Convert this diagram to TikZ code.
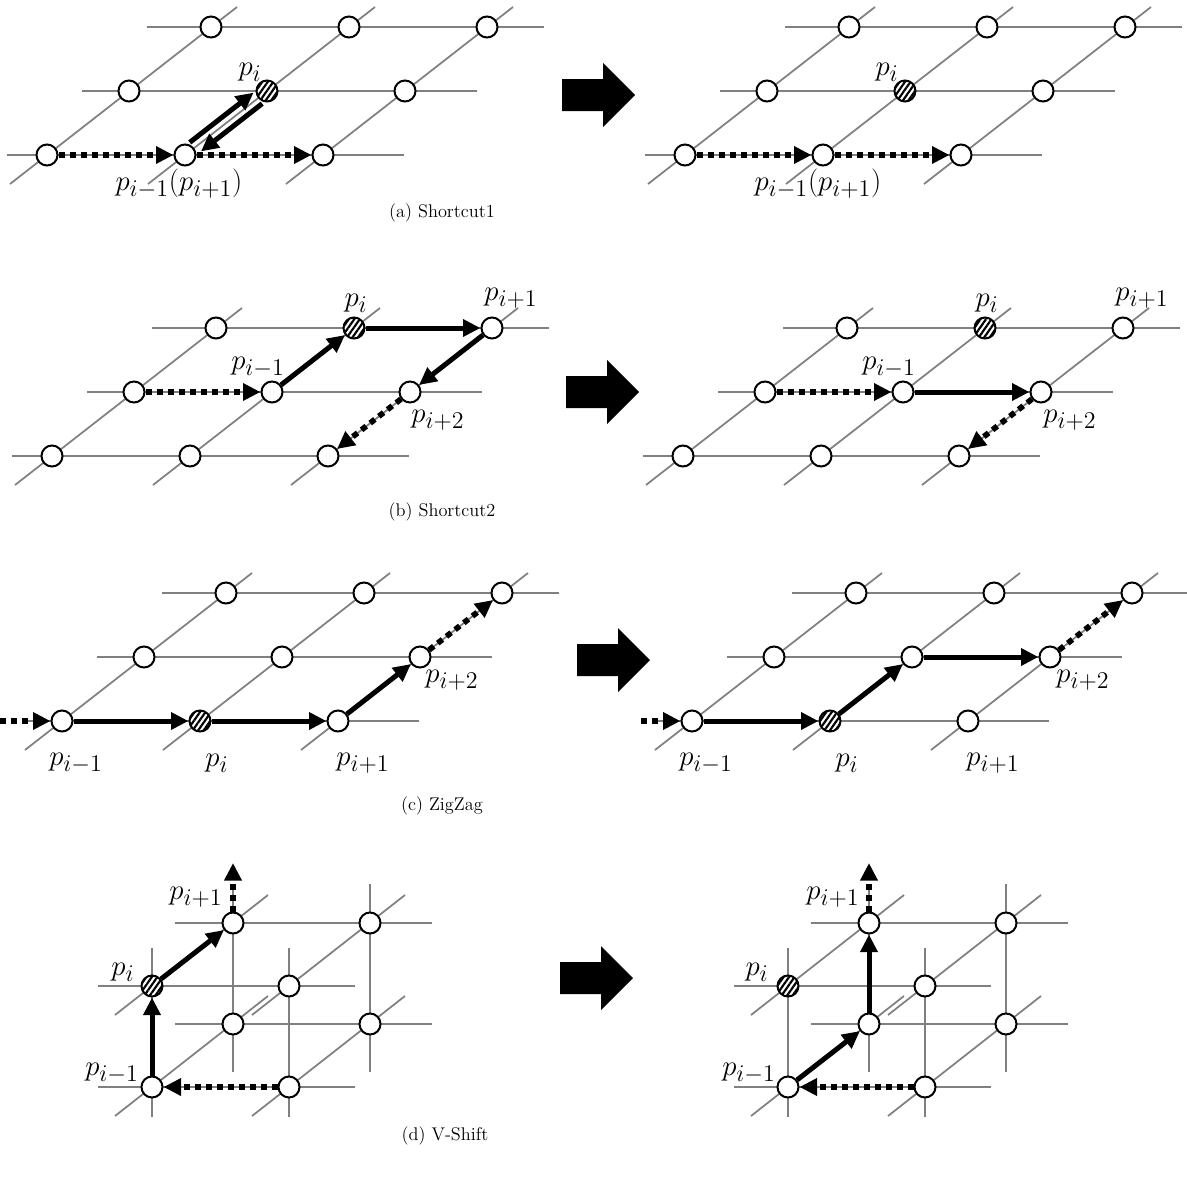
\documentclass[tikz,border=0pt]{standalone}
\usetikzlibrary{arrows.meta,patterns.meta}
\definecolor{gridgray}{RGB}{128,128,128}
\tikzset{
  gline/.style={draw=gridgray, line width=1.4pt},
  dline/.style={draw=gridgray, line width=1.05pt},
  vtx/.style={circle, draw=black, line width=1.2pt, fill=white, minimum size=12.6pt, inner sep=0pt},
  hatchfill/.style={preaction={fill=white}, pattern={Lines[angle=55,distance=2.7pt,line width=1.3pt]}},
  solidarr/.style={line width=3pt, -{Triangle[length=10.5pt,width=10pt]}},
  dotarr/.style={line width=3.4pt, dash pattern=on 3.6pt off 3pt, -{Triangle[length=10.5pt,width=10pt]}},
  lbl/.style={font=\fontsize{19}{22}\selectfont, inner sep=0pt},
  captxt/.style={font=\fontsize{11}{13}\selectfont, inner sep=0pt},
  bigarr/.style={fill=black}
}
% parallelogram grid: #1 prefix, #2,#3 bottom-left node
\newcommand\pgrid[3]{%
  \draw[gline] (#2-40,#3) -- (#2+357,#3);
  \draw[gline] (#2+35,#3-64) -- (#2+430,#3-64);
  \draw[gline] (#2+100,#3-128) -- (#2+497,#3-128);
  \foreach \k in {0,1,2} {\draw[dline] (#2+138*\k-37,#3+29) -- (#2+138*\k+190,#3-148);}
  \foreach \r in {0,1,2} {\foreach \c in {0,1,2} {%
    \node[vtx, s#1\r\c/.try] (#1\r\c) at (#2+82*\r+138*\c,#3-64*\r) {};}}%
}
% box grid for V-Shift: #1 prefix, #2,#3 front bottom-left node
\newcommand\vgrid[3]{%
  \draw[gline] (#2-54,#3) -- (#2+203,#3);
  \draw[gline] (#2-54,#3-101) -- (#2+203,#3-101);
  \draw[gline] (#2+23,#3-63) -- (#2+280,#3-63);
  \draw[gline] (#2+23,#3-164) -- (#2+280,#3-164);
  \draw[gline] (#2,#3+30) -- (#2,#3-139);
  \draw[gline] (#2+137,#3+30) -- (#2+137,#3-139);
  \draw[gline] (#2+81,#3-15) -- (#2+81,#3-203);
  \draw[gline] (#2+218,#3-15) -- (#2+218,#3-203);
  \draw[dline] (#2-37,#3+29) -- (#2+116,#3-91);
  \draw[dline] (#2-37,#3-72) -- (#2+116,#3-192);
  \draw[dline] (#2+100,#3+29) -- (#2+253,#3-91);
  \draw[dline] (#2+100,#3-72) -- (#2+253,#3-192);
  \node[vtx, s#1f00/.try] (#1f00) at (#2,#3) {};
  \node[vtx, s#1f01/.try] (#1f01) at (#2+137,#3) {};
  \node[vtx, s#1f10/.try] (#1f10) at (#2,#3-101) {};
  \node[vtx, s#1f11/.try] (#1f11) at (#2+137,#3-101) {};
  \node[vtx, s#1b00/.try] (#1b00) at (#2+81,#3-63) {};
  \node[vtx, s#1b01/.try] (#1b01) at (#2+218,#3-63) {};
  \node[vtx, s#1b10/.try] (#1b10) at (#2+81,#3-164) {};
  \node[vtx, s#1b11/.try] (#1b11) at (#2+218,#3-164) {};
}
\newcommand\bigarrow[2]{%
  \fill[bigarr] (#1,#2-16) -- (#1+41,#2-16) -- (#1+41,#2-32) -- (#1+73,#2) -- (#1+41,#2+32) -- (#1+41,#2+16) -- (#1,#2+16) -- cycle;}
\tikzset{sa11/.style=hatchfill, sA11/.style=hatchfill, sb21/.style=hatchfill, sB21/.style=hatchfill,
  sc01/.style=hatchfill, sC01/.style=hatchfill, sdf10/.style=hatchfill, sDf10/.style=hatchfill}
\begin{document}
\begin{tikzpicture}[x=0.6pt,y=-0.6pt]
\useasboundingbox (0,0) rectangle (1187,1186);
% ---------------- (a) Shortcut1 ----------------
\pgrid{a}{47}{155}
\draw[dotarr] (a00) -- (a01);
\draw[dotarr] (a01) -- (a02);
\draw[solidarr, transform canvas={shift={(-4.3,-5.5)}}] (a01) -- (a11);
\draw[solidarr, transform canvas={shift={(4.3,5.5)}}, shorten >=2pt] (a11) -- (a01);
\node[lbl] (la1) at (250,72) {$p_i$};
\node[lbl] (la2) at (179,184) {$p_{i-1}(p_{i+1})$};
\bigarrow{562}{95}
\pgrid{A}{685}{155}
\draw[dotarr] (A00) -- (A01);
\draw[dotarr] (A01) -- (A02);
\node[lbl] (lA1) at (887,72) {$p_i$};
\node[lbl] (lA2) at (818,184) {$p_{i-1}(p_{i+1})$};
\node[captxt] (capa) at (442,213) {(a) Shortcut1};
% ---------------- (b) Shortcut2 ----------------
\pgrid{b}{52}{456}
\draw[dotarr] (b10) -- (b11);
\draw[solidarr] (b11) -- (b21);
\draw[solidarr] (b21) -- (b22);
\draw[solidarr] (b22) -- (b12);
\draw[dotarr] (b12) -- (b02);
\node[lbl] (lb1) at (356,303) {$p_i$};
\node[lbl] (lb2) at (258,367) {$p_{i-1}$};
\node[lbl] (lb3) at (511,298) {$p_{i+1}$};
\node[lbl] (lb4) at (438,420) {$p_{i+2}$};
\bigarrow{566}{392}
\pgrid{B}{683}{456}
\draw[dotarr] (B10) -- (B11);
\draw[solidarr] (B11) -- (B12);
\draw[dotarr] (B12) -- (B02);
\node[lbl] (lB1) at (987,303) {$p_i$};
\node[lbl] (lB2) at (889,367) {$p_{i-1}$};
\node[lbl] (lB3) at (1142,298) {$p_{i+1}$};
\node[lbl] (lB4) at (1070,420) {$p_{i+2}$};
\node[captxt] (capb) at (442,512) {(b) Shortcut2};
% ---------------- (c) ZigZag ----------------
\pgrid{c}{62}{721}
\coordinate (cin) at (0,721);
\draw[dotarr] (cin) -- (c00);
\draw[solidarr] (c00) -- (c01);
\draw[solidarr] (c01) -- (c02);
\draw[solidarr] (c02) -- (c12);
\draw[dotarr] (c12) -- (c22);
\node[lbl] (lc1) at (76,763) {$p_{i-1}$};
\node[lbl] (lc2) at (217,763) {$p_i$};
\node[lbl] (lc3) at (363,763) {$p_{i+1}$};
\node[lbl] (lc4) at (452,680) {$p_{i+2}$};
\bigarrow{577}{660}
\pgrid{C}{692}{721}
\coordinate (Cin) at (641,721);
\draw[dotarr] (Cin) -- (C00);
\draw[solidarr] (C00) -- (C01);
\draw[solidarr] (C01) -- (C11);
\draw[solidarr] (C11) -- (C12);
\draw[dotarr] (C12) -- (C22);
\node[lbl] (lC1) at (706,763) {$p_{i-1}$};
\node[lbl] (lC2) at (847,763) {$p_i$};
\node[lbl] (lC3) at (993,763) {$p_{i+1}$};
\node[lbl] (lC4) at (1083,680) {$p_{i+2}$};
\node[captxt] (capc) at (442,806) {(c) ZigZag};
% ---------------- (d) V-Shift ----------------
\vgrid{d}{152}{1087}
\coordinate (dup) at (233,863);
\draw[dotarr] (df01) -- (df00);
\draw[solidarr] (df00) -- (df10);
\draw[solidarr] (df10) -- (db10);
\draw[dotarr] (db10) -- (dup);
\node[lbl] (ld1) at (196,897) {$p_{i+1}$};
\node[lbl] (ld2) at (123,972) {$p_i$};
\node[lbl] (ld3) at (112,1073) {$p_{i-1}$};
\bigarrow{560}{978}
\vgrid{D}{788}{1087}
\coordinate (Dup) at (869,863);
\draw[dotarr] (Df01) -- (Df00);
\draw[solidarr] (Df00) -- (Db00);
\draw[solidarr] (Db00) -- (Db10);
\draw[dotarr] (Db10) -- (Dup);
\node[lbl] (lD1) at (833,897) {$p_{i+1}$};
\node[lbl] (lD2) at (757,972) {$p_i$};
\node[lbl] (lD3) at (749,1073) {$p_{i-1}$};
\node[captxt] (capd) at (445,1136) {(d) V-Shift};
\end{tikzpicture}
\end{document}
